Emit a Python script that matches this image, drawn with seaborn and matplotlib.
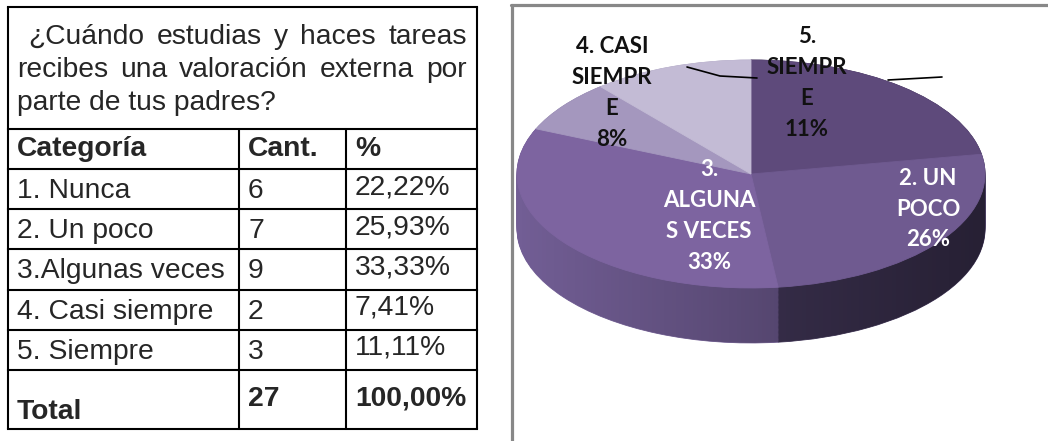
import numpy as np
import matplotlib
matplotlib.use("Agg")
import matplotlib.pyplot as plt
from matplotlib.patches import Polygon
import seaborn as sns

# Datos de la tabla
pregunta = ["¿Cuándo estudias y haces tareas",
            "recibes una valoración externa por",
            "parte de tus padres?"]
categorias = ["1. Nunca", "2. Un poco", "3.Algunas veces", "4. Casi siempre", "5. Siempre"]
cantidades = [6, 7, 9, 2, 3]
# etiquetas del grafico (como en el original, 1. Nunca sin etiqueta visible)
etiquetas_pie = ["", "2. UN\nPOCO\n26%", "3.\nALGUNA\nS VECES\n33%", "4. CASI\nSIEMPR\nE\n8%", "5.\nSIEMPR\nE\n11%"]
colores = ["#5e4a7b", "#6f5a90", "#7d64a0", "#a497be", "#c3bbd5"]
colores_pared = ["#3a2e4e", "#463a5e", "#725e95", "#8a7ea6", "#a8a0bc"]

total = sum(cantidades)
porcentajes = [f"{100 * c / total:.2f}%".replace(".", ",") for c in cantidades]

sns.set_theme(style="white")
plt.rcParams["font.family"] = ["Liberation Sans", "DejaVu Sans"]

W, H = 1048, 441
fig = plt.figure(figsize=(W / 100, H / 100), dpi=100)

# ---------- tabla (coordenadas en pixeles) ----------
ax_t = fig.add_axes([0, 0, 1, 1])
ax_t.set_xlim(0, W)
ax_t.set_ylim(H, 0)
ax_t.axis("off")

lw = 1.5
x0, x1, xc1, xc2 = 8, 477, 239, 346
filas = [7, 129, 169, 209, 249, 290, 330, 370, 429]
for y in filas:
    ax_t.plot([x0, x1], [y, y], color="black", lw=lw, solid_capstyle="projecting")
ax_t.plot([x0, x0], [filas[0], filas[-1]], color="black", lw=lw)
ax_t.plot([x1, x1], [filas[0], filas[-1]], color="black", lw=lw)
for xc in (xc1, xc2):
    ax_t.plot([xc, xc], [filas[1], filas[-1]], color="black", lw=lw)

fs = 20.3
fig.canvas.draw()
renderer = fig.canvas.get_renderer()


def justificado(palabras, xa, xb, y):
    tt = [ax_t.text(0, y, p, fontsize=fs, va="center", ha="left") for p in palabras]
    anchos = [t.get_window_extent(renderer).width for t in tt]
    hueco = (xb - xa - sum(anchos)) / (len(palabras) - 1)
    x = xa
    for t, a in zip(tt, anchos):
        t.set_x(x)
        x += a + hueco


justificado(pregunta[0].split(), 28, 467, 37)
justificado(pregunta[1].split(), 17, 467, 70)
ax_t.text(17, 103, pregunta[2], fontsize=fs, va="center", ha="left")

yh = 149
ax_t.text(17, yh, "Categoría", fontsize=fs, fontweight="bold", va="center")
ax_t.text(248, yh, "Cant.", fontsize=fs, fontweight="bold", va="center")
ax_t.text(355, yh, "%", fontsize=fs, fontweight="bold", va="center")
for i, (cat, n, p) in enumerate(zip(categorias, cantidades, porcentajes)):
    yc = (filas[i + 2] + filas[i + 3]) / 2 + 2
    ax_t.text(17, yc, cat, fontsize=fs, va="center")
    ax_t.text(248, yc, str(n), fontsize=fs, va="center")
    ax_t.text(355, yc - 4, p, fontsize=fs, va="center")
ax_t.text(17, 412, "Total", fontsize=fs, fontweight="bold", va="center")
ax_t.text(248, 399, str(total), fontsize=fs, fontweight="bold", va="center")
ax_t.text(355, 399, "100,00%", fontsize=fs, fontweight="bold", va="center")

# marco gris del grafico
ax_t.plot([512, 512], [5, H], color="#888888", lw=2.3)
ax_t.plot([511, W], [5, 5], color="#888888", lw=2.3)

# ---------- grafico circular "3D" ----------
left = 514
ax_p = fig.add_axes([left / W, 0, (W - left) / W, 1 - 8 / H])
sq = 0.487  # aplastamiento vertical
ytop = H - 8


def py2d(py):
    return (ytop - py) / sq


def sin_bordes(ws):
    for w in ws:
        w.set_edgecolor(w.get_facecolor())


cx, cy, r = 751, py2d(166), 234
prof = 55 / sq

for d in np.linspace(prof, 0, 45):
    ws, _ = ax_p.pie(cantidades, startangle=90, counterclock=False, colors=colores_pared,
                     center=(cx, cy - d), radius=r,
                     wedgeprops=dict(linewidth=0.6, zorder=1))
    sin_bordes(ws)

# sombreado horizontal de la pared
t = np.linspace(np.pi, 2 * np.pi, 200)
xs = cx + r * np.cos(t)
ys = cy + r * np.sin(t)
pared = np.concatenate([np.column_stack([xs, ys]), np.column_stack([xs[::-1], ys[::-1] - prof])])
clip = Polygon(pared, closed=True, facecolor="none", edgecolor="none")
ax_p.add_patch(clip)
grad = np.zeros((1, 256, 4))
grad[0, :, 3] = np.linspace(0.0, 0.45, 256)
im = ax_p.imshow(grad, extent=[cx - r, cx + r, cy - r - prof, cy], aspect="auto",
                 interpolation="bilinear", zorder=1.5)
im.set_clip_path(clip)

wedges, _ = ax_p.pie(cantidades, startangle=90, counterclock=False, colors=colores,
                     center=(cx, cy), radius=r,
                     wedgeprops=dict(linewidth=0.6, zorder=2))
sin_bordes(wedges)

ax_p.set_xlim(left, W)
ax_p.set_ylim(0, ytop / sq)
ax_p.set_aspect("auto")
ax_p.axis("off")

pos_etiquetas = [None, (928, 201), (709, 208), (612, 85), (807, 75)]
color_txt = [None, "white", "white", "#111111", "#111111"]
for txt, pos, col in zip(etiquetas_pie, pos_etiquetas, color_txt):
    if pos is None:
        continue
    ax_p.text(pos[0], py2d(pos[1]), txt, ha="center", va="center", color=col,
              fontsize=16, fontweight="bold", family=["Lato", "DejaVu Sans"],
              linespacing=1.58, zorder=5)

# lineas guia
ax_p.plot([687, 720, 757], [py2d(59), py2d(68), py2d(70)], color="black", lw=1.2, zorder=4)
ax_p.plot([888, 942], [py2d(72), py2d(69)], color="black", lw=1.2, zorder=4)

fig.savefig("out.png", dpi=100, facecolor="white")
